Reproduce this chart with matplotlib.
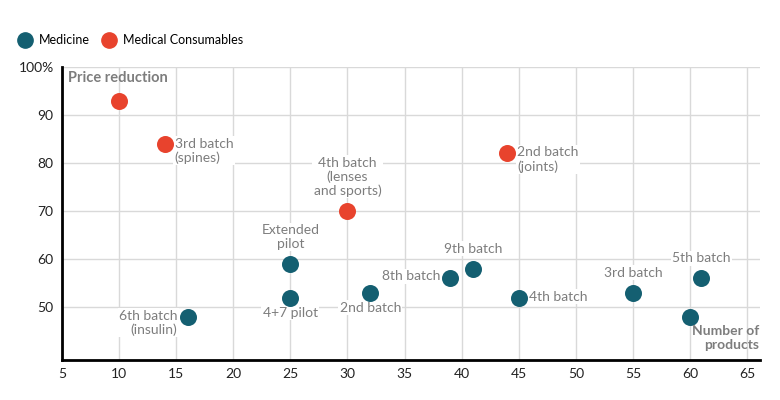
import matplotlib.pyplot as plt
from matplotlib.lines import Line2D

plt.rcParams['font.family'] = ['Lato', 'DejaVu Sans']

# Medicine batches
med_x = [16, 25, 25, 32, 39, 41, 45, 55, 60, 61]
med_y = [48, 59, 52, 53, 56, 58, 52, 53, 48, 56]
med_labels = ["6th batch\n(insulin)", "Extended\npilot", "4+7 pilot", "2nd batch",
              "8th batch", "9th batch", "4th batch", "3rd batch", "", "5th batch"]

# Medical consumables batches
cons_x = [10, 14, 30, 44]
cons_y = [93, 84, 70, 82]
cons_labels = ["", "3rd batch\n(spines)", "4th batch\n(lenses\nand sports)", "2nd batch\n(joints)"]

x_ticks = [5, 10, 15, 20, 25, 30, 35, 40, 45, 50, 55, 60, 65]
y_ticks = [50, 60, 70, 80, 90, 100]
y_ticklabels = ["50", "60", "70", "80", "90", "100%"]

TEAL = "#145f71"
RED = "#e8432d"
GREY = "#7d7d7d"

# label placement: (dx, dy, ha, va) in pixels
med_pos = [(-10, -6, 'right', 'center'), (0, 14, 'center', 'bottom'),
           (0, -9, 'center', 'top'), (0, -9, 'center', 'top'),
           (-10, 2, 'right', 'center'), (0, 14, 'center', 'bottom'),
           (10, 1, 'left', 'center'), (0, 14, 'center', 'bottom'),
           (0, 0, 'center', 'center'), (0, 14, 'center', 'bottom')]
cons_pos = [(0, 0, 'center', 'center'), (10, -7, 'left', 'center'),
            (0, 14, 'center', 'bottom'), (10, -6, 'left', 'center')]

fig = plt.figure(figsize=(7.8, 4.0), dpi=100)
ax = fig.add_axes([0.0795, 0.1, 0.8945, 0.7325])

ax.scatter(med_x, med_y, s=150, color=TEAL, zorder=3, linewidths=0)
ax.scatter(cons_x, cons_y, s=150, color=RED, zorder=3, linewidths=0)

for xs, ys, labs, pos in [(med_x, med_y, med_labels, med_pos),
                          (cons_x, cons_y, cons_labels, cons_pos)]:
    for x, y, lab, (dx, dy, ha, va) in zip(xs, ys, labs, pos):
        if not lab:
            continue
        ax.annotate(lab, (x, y), xytext=(dx, dy), textcoords='offset pixels',
                    ha=ha, va=va, multialignment=ha,
                    fontsize=10, color=GREY, linespacing=1.15, zorder=2,
                    bbox=dict(fc='white', ec='none', pad=1))

ax.set_xlim(5, 66.1)
ax.set_ylim(39, 100)
ax.set_xticks(x_ticks)
ax.set_yticks(y_ticks)
ax.set_yticklabels(y_ticklabels)
ax.tick_params(length=0, labelsize=10, colors='#222222', pad=6)
ax.grid(True, color='#d9d9d9', lw=1, zorder=0)
ax.set_axisbelow(True)
for s in ['top', 'right']:
    ax.spines[s].set_visible(False)
for s in ['left', 'bottom']:
    ax.spines[s].set_linewidth(2)
    ax.spines[s].set_color('black')

ax.text(0.009, 0.988, "Price reduction", transform=ax.transAxes, ha='left', va='top',
        fontsize=10.5, fontweight='bold', color=GREY)
ax.text(0.999, 0.03, "Number of\nproducts", transform=ax.transAxes, ha='right', va='bottom',
        fontsize=10, fontweight='bold', color=GREY, multialignment='right', linespacing=1.2)

handles = [Line2D([], [], marker='o', ls='', color=TEAL, markersize=11, label='Medicine'),
           Line2D([], [], marker='o', ls='', color=RED, markersize=11, label='Medical Consumables')]
fig.legend(handles=handles, loc='center left', bbox_to_anchor=(0.01, 0.9), ncol=2, frameon=False,
           fontsize=9, handletextpad=0.1, columnspacing=0.5, borderaxespad=0)

fig.savefig("out.png", dpi=100)
